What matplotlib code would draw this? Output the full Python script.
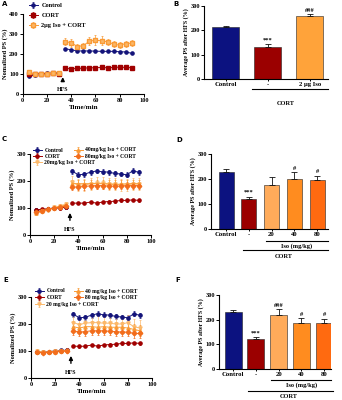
import matplotlib
matplotlib.use('Agg')
import matplotlib.pyplot as plt
from matplotlib.legend import Legend
import numpy as np

plt.rcParams['font.family'] = ['Liberation Serif', 'DejaVu Serif']
plt.rcParams['font.weight'] = 'bold'
plt.rcParams['axes.labelweight'] = 'bold'

# ---------------- data ----------------
t_pre = [5, 10, 15, 20, 25, 30]
t_post = [35, 40, 45, 50, 55, 60, 65, 70, 75, 80, 85, 90]

# Panel A
A_ctrl_pre = [90, 95, 98, 103, 105, 107]
A_ctrl_post = [227, 222, 216, 216, 216, 215, 214, 214, 214, 212, 211, 204]
A_ctrl_err = 5
A_cort_pre = [100, 100, 102, 100, 103, 102]
A_cort_post = [128, 127, 128, 130, 131, 132, 133, 132, 133, 135, 133, 132]
A_cort_err = 10
A_iso_pre = [108, 100, 98, 100, 105, 105]
A_iso_post = [262, 258, 238, 243, 265, 270, 267, 262, 250, 245, 253, 255]
A_iso_err = [18, 20, 15, 12, 20, 25, 22, 15, 15, 15, 15, 15]
A_labels = ['Control', 'CORT', '2μg Iso + CORT']

# Panel B
B_cats = ['Control', '-', '2 μg Iso']
B_vals = [213, 130, 258]
B_errs = [4, 12, 8]
B_sig = ['', '***', '###']

# Panel C
C_ctrl_pre = [93, 93, 97, 100, 102, 104]
C_ctrl_post = [236, 223, 225, 233, 237, 234, 233, 228, 226, 223, 238, 232]
C_cort_pre = [93, 95, 97, 100, 100, 103]
C_cort_post = [118, 118, 118, 122, 118, 122, 124, 125, 128, 128, 130, 128]
C_iso20_pre = [80, 88, 92, 102, 108, 115]
C_iso20_post = [195, 185, 185, 190, 192, 192, 190, 188, 185, 185, 190, 188]
C_iso40_pre = [82, 90, 95, 100, 105, 112]
C_iso40_post = [190, 190, 190, 190, 190, 190, 188, 188, 188, 190, 190, 190]
C_iso80_pre = [85, 90, 95, 100, 103, 108]
C_iso80_post = [178, 178, 180, 182, 183, 183, 181, 181, 181, 183, 183, 183]
C_labels = ['Control', 'CORT', '20mg/kg Iso + CORT', '40mg/kg Iso + CORT', '80mg/kg Iso + CORT']

# Panel D
D_cats = ['Control', '-', '20', '40', '80']
D_vals = [230, 122, 177, 200, 198]
D_errs = [10, 8, 30, 27, 15]
D_sig = ['', '***', '', '#', '#']

# Panel E
E_ctrl_pre = [95, 95, 98, 100, 102, 103]
E_ctrl_post = [236, 223, 225, 233, 238, 234, 233, 228, 226, 223, 238, 232]
E_cort_pre = [95, 95, 95, 100, 100, 103]
E_cort_post = [118, 117, 118, 122, 118, 122, 124, 125, 128, 128, 130, 128]
E_iso20_pre = [100, 95, 97, 100, 100, 100]
E_iso20_post = [205, 198, 203, 205, 205, 203, 203, 200, 200, 205, 190, 185]
E_iso40_pre = [98, 95, 95, 98, 100, 102]
E_iso40_post = [190, 185, 190, 190, 188, 190, 188, 188, 188, 185, 180, 175]
E_iso80_pre = [96, 94, 96, 97, 99, 100]
E_iso80_post = [175, 170, 172, 175, 175, 175, 173, 172, 170, 170, 165, 165]
E_labels = ['Control', 'CORT', '20 mg/kg Iso + CORT', '40 mg/kg Iso + CORT', '80 mg/kg Iso + CORT']

# Panel F
F_cats = ['Control', '-', '20', '40', '80']
F_vals = [230, 122, 220, 185, 188]
F_errs = [10, 6, 22, 20, 15]
F_sig = ['', '***', '###', '#', '#']

# ---------------- styling ----------------
NAVY = '#14147a'
RED = '#a00000'
OR1 = '#fbb86a'
OR2 = '#f99a35'
OR3 = '#f26d1c'
BAR_NAVY = '#0c1280'
BAR_RED = '#9b0000'
BAR_OR = '#ffa33a'
BAR_OR1 = '#ffab5a'
BAR_OR2 = '#ff8c1f'
BAR_OR3 = '#ff6a10'

W, H = 342, 400
fig = plt.figure(figsize=(W / 100, H / 100), dpi=100)


def axpx(l, r, t, b):
    return fig.add_axes([l / W, 1 - b / H, (r - l) / W, (b - t) / H])


def style(ax):
    for s in ['top', 'right']:
        ax.spines[s].set_visible(False)
    for s in ['left', 'bottom']:
        ax.spines[s].set_linewidth(0.8)
    ax.tick_params(direction='out', length=2, width=0.7, labelsize=4.6, pad=1)


def series(ax, pre, post, err, color, marker, label, mfc=None, err_pre=6):
    kw = dict(color=color, marker=marker, ms=2.3, lw=0.7, elinewidth=0.5,
              capsize=1.0, capthick=0.5, mfc=mfc or color, mec=color)
    ax.errorbar(t_pre, pre, yerr=err_pre, **kw)
    return ax.errorbar(t_post, post, yerr=err, label=label, **kw)


def hfs(ax, tip, text_y):
    ax.annotate('HFS', xy=(33, tip), xytext=(33, text_y), ha='center',
                va='center', fontsize=4.3,
                arrowprops=dict(arrowstyle='-|>,head_length=0.5,head_width=0.25',
                                color='black', lw=1.0, shrinkA=2.5, shrinkB=0))


def letter(x, y, s):
    fig.text(x / W, 1 - y / H, s, fontsize=5, fontweight='bold',
             family='DejaVu Sans', va='center', ha='left')


def lineaxes(ax, ylim, yticks):
    style(ax)
    ax.set_xlim(0, 100)
    ax.set_ylim(*ylim)
    ax.set_xticks([0, 20, 40, 60, 80, 100])
    ax.set_yticks(yticks)
    ax.set_xlabel('Time/min', fontsize=5, labelpad=1)
    ax.set_ylabel('Nomalized PS (%)', fontsize=4.6, labelpad=1)


def barpanel(ax, cats, vals, errs, colors, width, sig):
    style(ax)
    x = np.arange(len(vals))
    ax.bar(x, vals, width, color=colors, edgecolor='#222222', lw=0.4)
    ax.errorbar(x, vals, yerr=[np.zeros(len(errs)), errs], fmt='none',
                ecolor='#111111', elinewidth=0.6, capsize=2, capthick=0.6)
    for xi, v, e, s in zip(x, vals, errs, sig):
        if s:
            ax.text(xi, v + e + 6, s, ha='center', va='bottom', fontsize=4.6)
    ax.set_ylim(0, 300)
    ax.set_yticks([0, 100, 200, 300])
    ax.set_xticks(x)
    ax.set_xticklabels(cats, fontsize=4.8)
    ax.tick_params(axis='x', length=1.5)
    ax.set_ylabel('Average PS after HFS (%)', fontsize=4.3, labelpad=1)
    return x


def group(ax, x0, x1, yline, ytext, text, xt=None):
    tr = ax.get_xaxis_transform()
    ax.plot([x0, x1], [yline, yline], color='black', lw=0.8, transform=tr,
            clip_on=False)
    ax.text((x0 + x1) / 2 if xt is None else xt, ytext, text, transform=tr,
            ha='center', va='center', fontsize=4.6)


def legend_at(ax, handles, labels, left_px, top_px, fs, spacing):
    leg = Legend(ax, handles, labels, loc='upper left',
                 bbox_to_anchor=(left_px / W, 1 - top_px / H),
                 bbox_transform=fig.transFigure, frameon=False, fontsize=fs,
                 handlelength=1.5, handletextpad=0.5, labelspacing=spacing,
                 borderpad=0, borderaxespad=0)
    ax.add_artist(leg)
    return leg


# ---------------- Panel A ----------------
axA = axpx(22.7, 144, 14.3, 94)
hA = [series(axA, A_ctrl_pre, A_ctrl_post, A_ctrl_err, NAVY, 'o', A_labels[0]),
      series(axA, A_cort_pre, A_cort_post, A_cort_err, RED, 's', A_labels[1]),
      series(axA, A_iso_pre, A_iso_post, A_iso_err, OR2, 's', A_labels[2], mfc=OR1)]
lineaxes(axA, (0, 400), [0, 100, 200, 300, 400])
hfs(axA, 85, 22)
legend_at(axA, hA, A_labels, 28.5, 2.5, 4.6, 0.75)
letter(2, 4, 'A')

# ---------------- Panel B ----------------
axB = axpx(204, 328, 6, 79)
xb = barpanel(axB, B_cats, B_vals, B_errs, [BAR_NAVY, BAR_RED, BAR_OR], 0.64, B_sig)
axB.set_xlim(xb[0] - 0.52, xb[-1] + 0.43)
group(axB, xb[1] - 0.38, xb[-1] + 0.43, -0.137, -0.33, 'CORT', xt=xb[1] + 0.43)
letter(173, 4, 'B')

# ---------------- Panel C ----------------
axC = axpx(30, 151, 154, 235)
hC = [series(axC, C_ctrl_pre, C_ctrl_post, 9, NAVY, 'o', C_labels[0]),
      series(axC, C_cort_pre, C_cort_post, 5, RED, 'o', C_labels[1]),
      series(axC, C_iso20_pre, C_iso20_post, 22, OR1, 'v', C_labels[2]),
      series(axC, C_iso40_pre, C_iso40_post, 15, OR2, '^', C_labels[3]),
      series(axC, C_iso80_pre, C_iso80_post, 12, OR3, 'D', C_labels[4])]
lineaxes(axC, (0, 300), [0, 100, 200, 300])
hfs(axC, 82, 22)
legend_at(axC, hC[:3], C_labels[:3], 33, 147.5, 4.1, 0.2)
legend_at(axC, hC[3:], C_labels[3:], 74, 147.5, 4.1, 0.2)
letter(2, 139, 'C')

# ---------------- Panel D ----------------
axD = axpx(211, 328, 154, 229)
xd = barpanel(axD, D_cats, D_vals, D_errs,
              [BAR_NAVY, BAR_RED, BAR_OR1, BAR_OR2, BAR_OR3], 0.66, D_sig)
axD.set_xlim(xd[0] - 0.66, xd[-1] + 0.48)
group(axD, xd[2] - 0.24, xd[-1] + 0.48, -0.16, -0.227, 'Iso (mg/kg)', xt=xd[3] + 0.08)
group(axD, xd[1] - 0.25, xd[-1] + 0.48, -0.28, -0.37, 'CORT', xt=xd[2] + 0.55)
letter(176, 140, 'D')

# ---------------- Panel E ----------------
axE = axpx(31, 152, 297, 378)
hE = [series(axE, E_ctrl_pre, E_ctrl_post, 9, NAVY, 'o', E_labels[0]),
      series(axE, E_cort_pre, E_cort_post, 5, RED, 'o', E_labels[1]),
      series(axE, E_iso20_pre, E_iso20_post, 28, OR1, 'v', E_labels[2]),
      series(axE, E_iso40_pre, E_iso40_post, 20, OR2, '^', E_labels[3]),
      series(axE, E_iso80_pre, E_iso80_post, 15, OR3, 'D', E_labels[4])]
lineaxes(axE, (0, 300), [0, 100, 200, 300])
hfs(axE, 82, 22)
legend_at(axE, hE[:3], E_labels[:3], 35, 288.5, 4.1, 0.3)
legend_at(axE, hE[3:], E_labels[3:], 74, 288.5, 4.1, 0.3)
letter(3, 280, 'E')

# ---------------- Panel F ----------------
axF = axpx(219, 331, 295, 369)
xf = barpanel(axF, F_cats, F_vals, F_errs,
              [BAR_NAVY, BAR_RED, BAR_OR1, BAR_OR2, BAR_OR3], 0.75, F_sig)
axF.set_xlim(xf[0] - 0.62, xf[-1] + 0.3)
group(axF, xf[2] - 0.33, xf[-1] + 0.3, -0.149, -0.216, 'Iso (mg/kg)', xt=xf[3] - 0.01)
group(axF, xf[1] - 0.34, xf[-1] + 0.4, -0.30, -0.365, 'CORT', xt=xf[2] + 0.42)
letter(175, 280, 'F')

fig.savefig('out.png', dpi=100)
